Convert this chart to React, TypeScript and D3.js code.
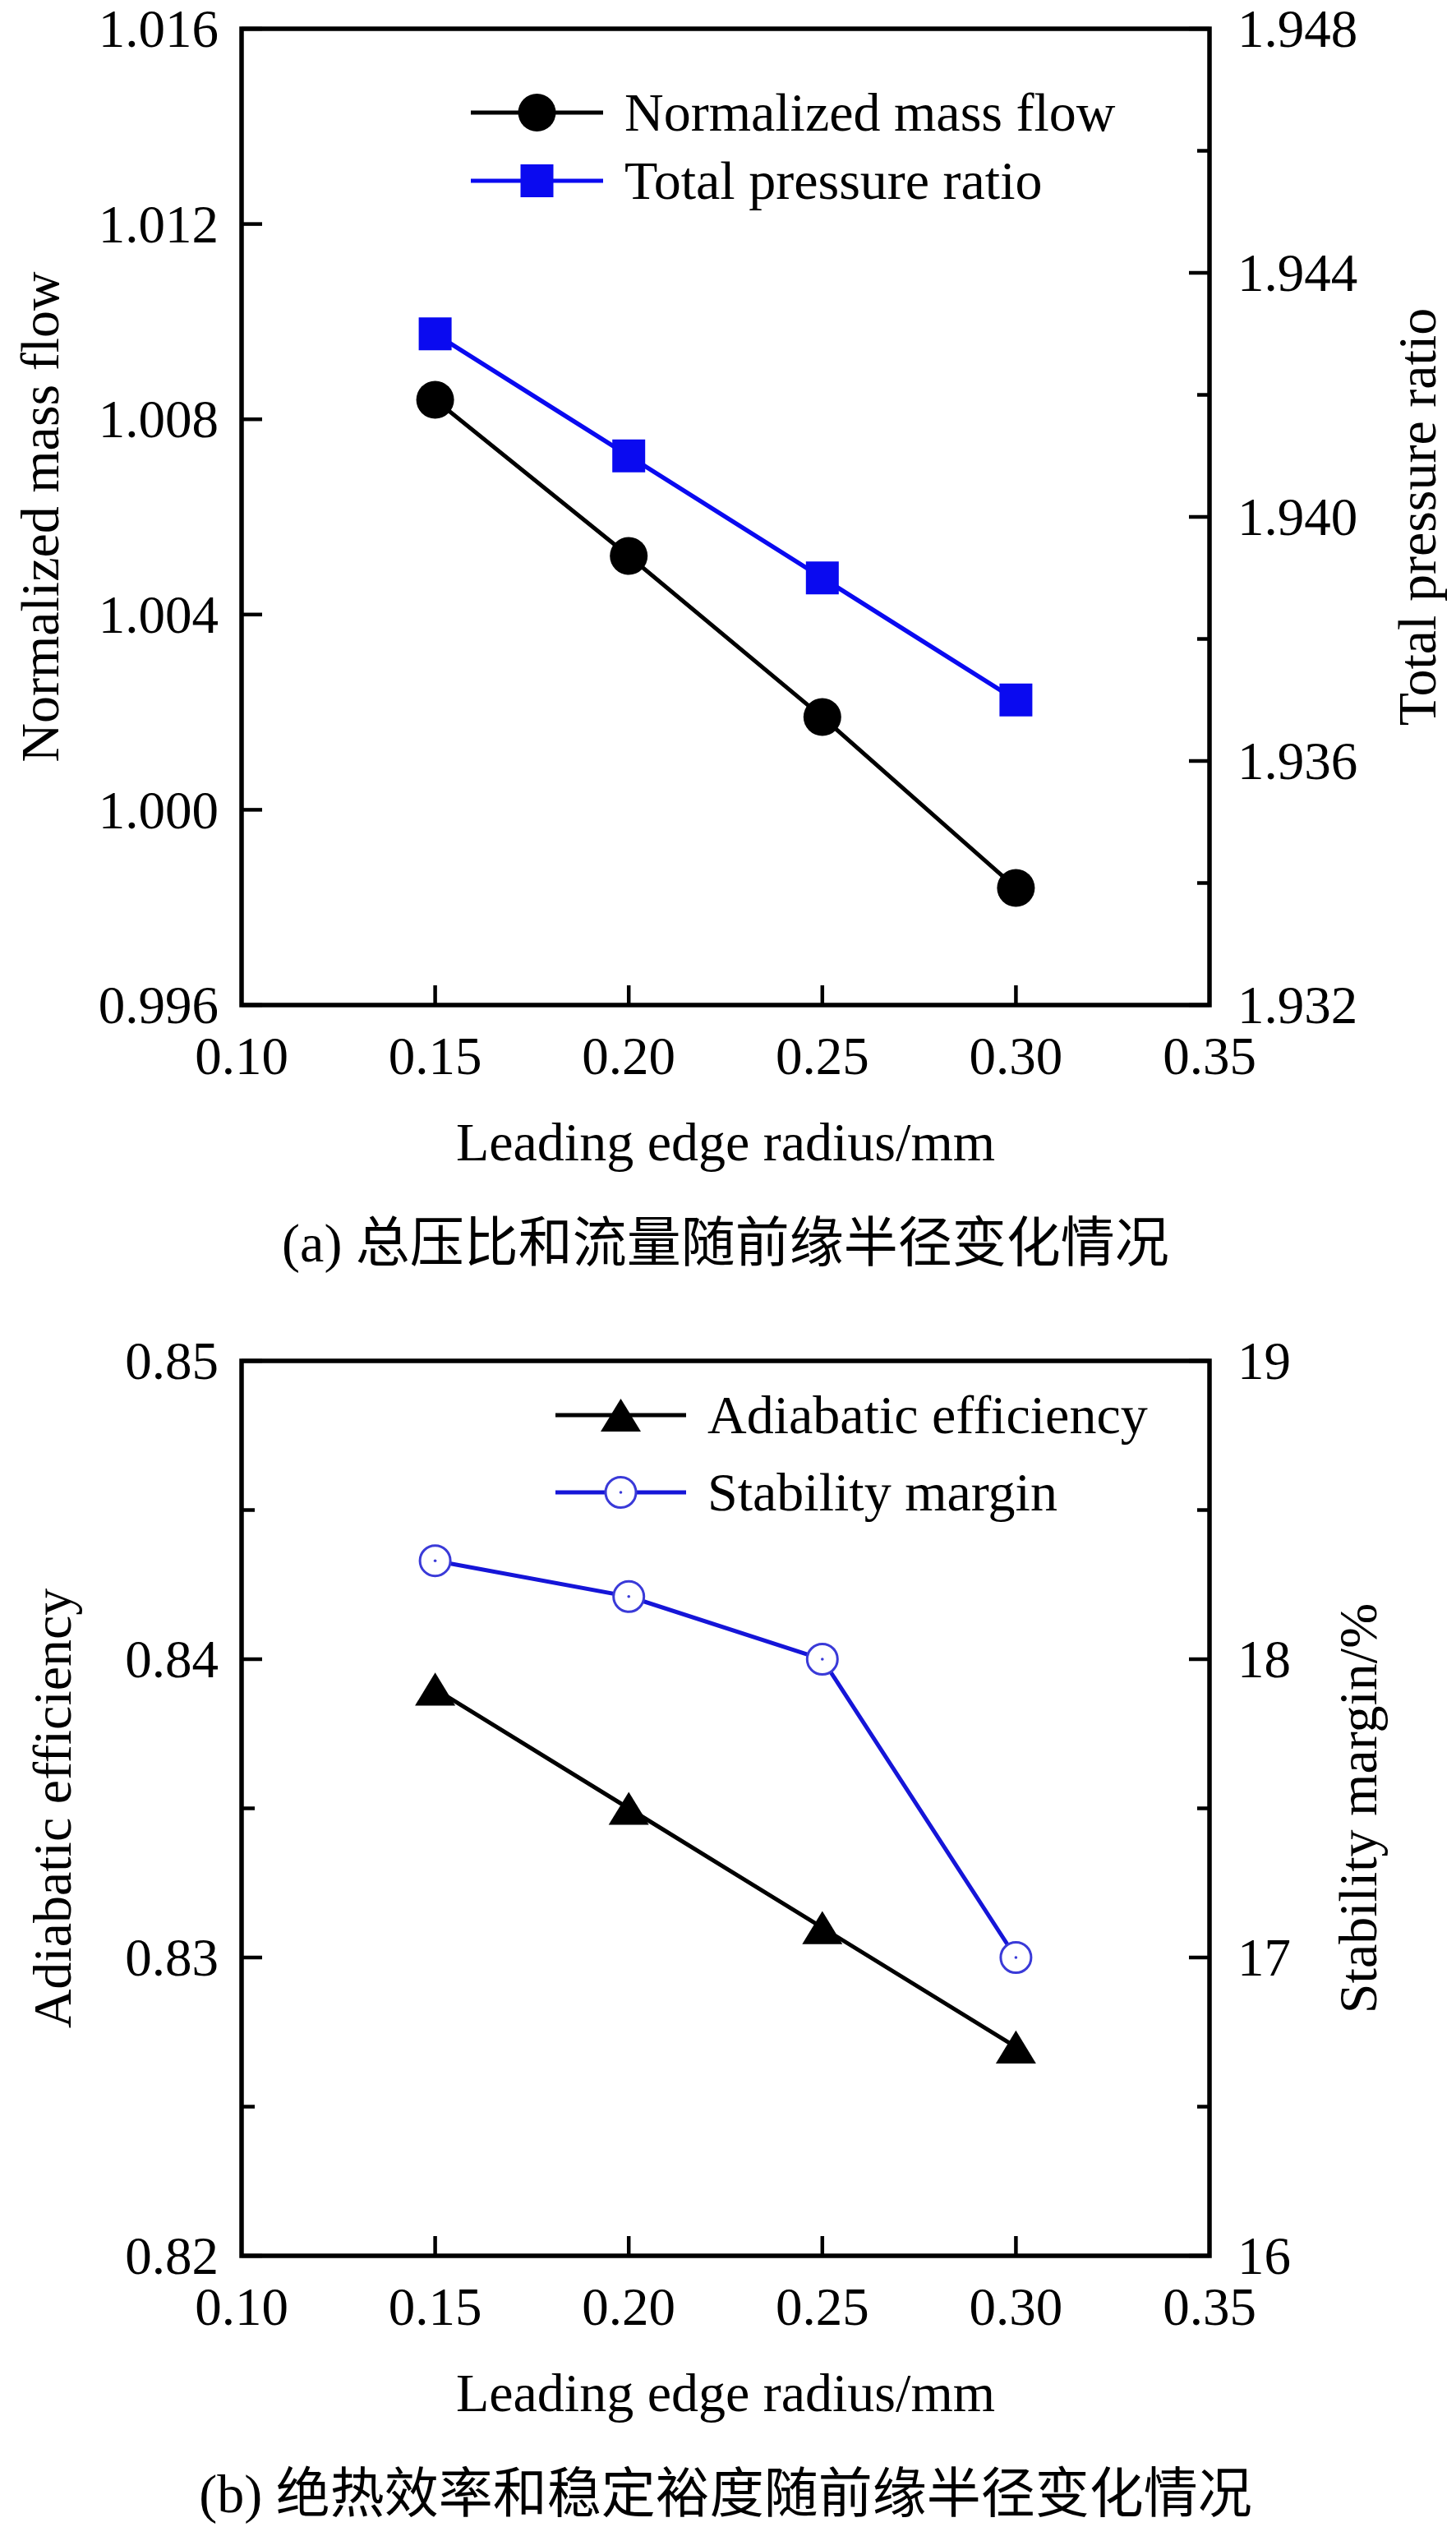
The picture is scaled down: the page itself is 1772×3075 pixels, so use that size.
import * as d3 from "d3";

// leading edge radius (mm) for every series
const radius = [0.15, 0.2, 0.25, 0.3];

// panel (a)
const massFlow = [1.0084, 1.0052, 1.0019, 0.9984];
const pressureRatio = [1.943, 1.941, 1.939, 1.937];
const massTicks = [0.996, 1.0, 1.004, 1.008, 1.012, 1.016];
const pressureTicks = [1.932, 1.936, 1.94, 1.944, 1.948];
const pressureMinor = [1.934, 1.938, 1.942, 1.946];

// panel (b)
const efficiency = [0.839, 0.835, 0.831, 0.827];
const stabilityMargin = [18.33, 18.21, 18.0, 17.0];
const effTicks = [0.82, 0.83, 0.84, 0.85];
const effMinor = [0.825, 0.835, 0.845];
const marginTicks = [16, 17, 18, 19];
const marginMinor = [16.5, 17.5, 18.5];

const xTicks = [0.1, 0.15, 0.2, 0.25, 0.3, 0.35];

const W = 1772;
const H = 3075;
const SERIF = "'Liberation Serif', 'Times New Roman', serif";
const CJK = "'Liberation Serif', 'Noto Sans CJK SC', serif";
const FS = 65;
const BLUE = "#0a0af0";

const triangle: d3.SymbolType = {
  draw(ctx, size) {
    const w = Math.sqrt(size * 2.4);
    const h = w * 0.82;
    ctx.moveTo(0, -h / 2);
    ctx.lineTo(w / 2, h / 2);
    ctx.lineTo(-w / 2, h / 2);
    ctx.closePath();
  }
};

type Marker = "circle" | "square" | "triangle" | "ring";

function MarkerShape({ kind, x, y, color }: { kind: Marker; x: number; y: number; color: string }) {
  if (kind === "circle") return <circle cx={x} cy={y} r={23} fill={color} />;
  if (kind === "square") return <rect x={x - 20} y={y - 20} width={40} height={40} fill={color} />;
  if (kind === "triangle") {
    return <path transform={`translate(${x},${y})`} d={d3.symbol(triangle, 1000)() ?? undefined} fill={color} />;
  }
  return (
    <g>
      <circle cx={x} cy={y} r={18.5} fill="#fff" stroke="#3a3ad8" strokeWidth={3} />
      <circle cx={x} cy={y} r={1.8} fill="#3a3ad8" />
    </g>
  );
}

type Series = { label: string; values: number[]; color: string; marker: Marker; width: number };

type PanelProps = {
  top: number;
  bottom: number;
  leftDomain: [number, number];
  rightDomain: [number, number];
  leftTicks: number[];
  leftMinor: number[];
  rightTicks: number[];
  rightMinor: number[];
  leftFmt: (v: number) => string;
  rightFmt: (v: number) => string;
  leftTitle: string;
  rightTitle: string;
  leftTitleX: number;
  rightTitleX: number;
  left: Series;
  right: Series;
  legend: { x0: number; x1: number; textX: number; y0: number; y1: number };
  caption: string;
};

function Panel(p: PanelProps) {
  const left = 294;
  const right = 1472;
  const x = d3.scaleLinear([0.1, 0.35], [left, right]);
  const yl = d3.scaleLinear(p.leftDomain, [p.bottom, p.top]);
  const yr = d3.scaleLinear(p.rightDomain, [p.bottom, p.top]);
  const midY = (p.top + p.bottom) / 2;
  const midX = (left + right) / 2;
  const lineL = d3.line<number>().x((_, i) => x(radius[i])).y(v => yl(v));
  const lineR = d3.line<number>().x((_, i) => x(radius[i])).y(v => yr(v));
  const legendRows = [
    { s: p.left, y: p.legend.y0 },
    { s: p.right, y: p.legend.y1 }
  ];

  return (
    <g>
      {/* frame */}
      <rect x={left} y={p.top} width={right - left} height={p.bottom - p.top} fill="none" stroke="#000" strokeWidth={5.5} />

      {/* x axis */}
      {xTicks.map(t => (
        <g key={t}>
          {t > 0.11 && t < 0.34 && (
            <line x1={x(t)} x2={x(t)} y1={p.bottom} y2={p.bottom - 24} stroke="#000" strokeWidth={4.5} />
          )}
          <text x={x(t)} y={p.bottom + 84} textAnchor="middle" fontFamily={SERIF} fontSize={FS}>
            {d3.format(".2f")(t)}
          </text>
        </g>
      ))}

      {/* left axis */}
      {p.leftTicks.map(t => (
        <g key={t}>
          <line x1={left} x2={left + 25} y1={yl(t)} y2={yl(t)} stroke="#000" strokeWidth={4.5} />
          <text x={left - 28} y={yl(t)} dy="0.34em" textAnchor="end" fontFamily={SERIF} fontSize={FS}>
            {p.leftFmt(t)}
          </text>
        </g>
      ))}
      {p.leftMinor.map(t => (
        <line key={t} x1={left} x2={left + 16} y1={yl(t)} y2={yl(t)} stroke="#000" strokeWidth={4.5} />
      ))}

      {/* right axis */}
      {p.rightTicks.map(t => (
        <g key={t}>
          <line x1={right} x2={right - 25} y1={yr(t)} y2={yr(t)} stroke="#000" strokeWidth={4.5} />
          <text x={right + 34} y={yr(t)} dy="0.34em" textAnchor="start" fontFamily={SERIF} fontSize={FS}>
            {p.rightFmt(t)}
          </text>
        </g>
      ))}
      {p.rightMinor.map(t => (
        <line key={t} x1={right} x2={right - 15} y1={yr(t)} y2={yr(t)} stroke="#000" strokeWidth={4.5} />
      ))}

      {/* titles */}
      <text transform={`translate(${p.leftTitleX},${midY}) rotate(-90)`} textAnchor="middle" fontFamily={SERIF} fontSize={66}>
        {p.leftTitle}
      </text>
      <text transform={`translate(${p.rightTitleX},${midY}) rotate(-90)`} textAnchor="middle" fontFamily={SERIF} fontSize={66}>
        {p.rightTitle}
      </text>
      <text x={midX} y={p.bottom + 189} textAnchor="middle" fontFamily={SERIF} fontSize={66}>
        Leading edge radius/mm
      </text>
      <text x={midX} y={p.bottom + 312} textAnchor="middle" fontFamily={CJK} fontSize={66}>
        {p.caption}
      </text>

      {/* series */}
      <path d={lineL(p.left.values) ?? undefined} fill="none" stroke={p.left.color} strokeWidth={p.left.width} />
      <path d={lineR(p.right.values) ?? undefined} fill="none" stroke={p.right.color} strokeWidth={p.right.width} />
      {p.left.values.map((v, i) => (
        <MarkerShape key={`l${i}`} kind={p.left.marker} x={x(radius[i])} y={yl(v)} color={p.left.color} />
      ))}
      {p.right.values.map((v, i) => (
        <MarkerShape key={`r${i}`} kind={p.right.marker} x={x(radius[i])} y={yr(v)} color={p.right.color} />
      ))}

      {/* legend */}
      {legendRows.map(row => (
        <g key={row.s.label}>
          <line x1={p.legend.x0} x2={p.legend.x1} y1={row.y} y2={row.y} stroke={row.s.color} strokeWidth={5} />
          <MarkerShape kind={row.s.marker} x={(p.legend.x0 + p.legend.x1) / 2} y={row.y} color={row.s.color} />
          <text x={p.legend.textX} y={row.y} dy="0.34em" fontFamily={SERIF} fontSize={66}>
            {row.s.label}
          </text>
        </g>
      ))}
    </g>
  );
}

export default function App() {
  return (
    <svg
      width={W}
      height={H}
      viewBox={`0 0 ${W} ${H}`}
      style={{ position: "absolute", left: 0, top: 0, background: "#fff" }}
    >
      <rect width={W} height={H} fill="#fff" />
      <Panel
        top={35}
        bottom={1223}
        leftDomain={[0.996, 1.016]}
        rightDomain={[1.932, 1.948]}
        leftTicks={massTicks}
        leftMinor={[]}
        rightTicks={pressureTicks}
        rightMinor={pressureMinor}
        leftFmt={d3.format(".3f")}
        rightFmt={d3.format(".3f")}
        leftTitle="Normalized mass flow"
        rightTitle="Total pressure ratio"
        leftTitleX={71}
        rightTitleX={1747}
        left={{ label: "Normalized mass flow", values: massFlow, color: "#000", marker: "circle", width: 5 }}
        right={{ label: "Total pressure ratio", values: pressureRatio, color: BLUE, marker: "square", width: 5.5 }}
        legend={{ x0: 573, x1: 734, textX: 760, y0: 137, y1: 220 }}
        caption="(a) 总压比和流量随前缘半径变化情况"
      />
      <Panel
        top={1656}
        bottom={2745}
        leftDomain={[0.82, 0.85]}
        rightDomain={[16, 19]}
        leftTicks={effTicks}
        leftMinor={effMinor}
        rightTicks={marginTicks}
        rightMinor={marginMinor}
        leftFmt={d3.format(".2f")}
        rightFmt={d3.format("d")}
        leftTitle="Adiabatic efficiency"
        rightTitle="Stability margin/%"
        leftTitleX={86}
        rightTitleX={1675}
        left={{ label: "Adiabatic efficiency", values: efficiency, color: "#000", marker: "triangle", width: 5 }}
        right={{ label: "Stability margin", values: stabilityMargin, color: "#1515d8", marker: "ring", width: 5 }}
        legend={{ x0: 676, x1: 835, textX: 861, y0: 1722, y1: 1816 }}
        caption="(b) 绝热效率和稳定裕度随前缘半径变化情况"
      />
    </svg>
  );
}
